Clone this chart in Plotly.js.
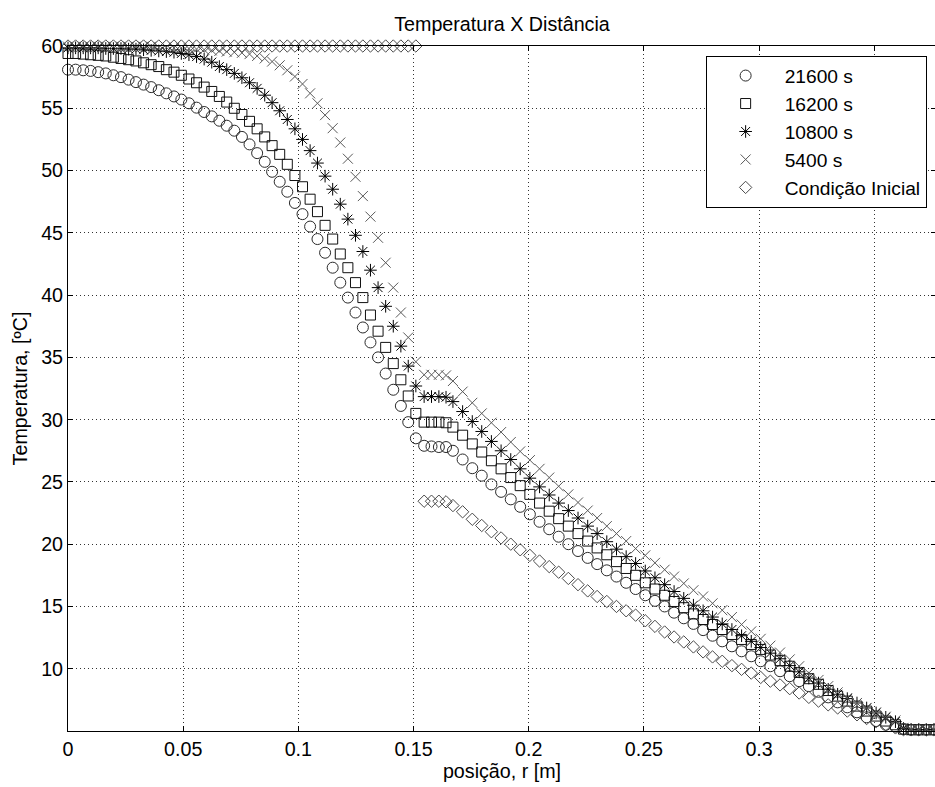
<!DOCTYPE html>
<html>
<head>
<meta charset="utf-8">
<script src="https://cdn.plot.ly/plotly-3.0.1.min.js"></script>
<style>
html,body{margin:0;padding:0;overflow:hidden;background:#fff}
#chart{width:937px;height:787px}
</style>
</head>
<body>
<div id="chart"></div>
<script>
// posição r [m] (shared mesh for all series)
const posicao = [
  0, 0.0033, 0.0066, 0.0098, 0.0131, 0.0164, 0.0197, 0.0230, 0.0263, 0.0295,
  0.0328, 0.0361, 0.0394, 0.0427, 0.0460, 0.0492, 0.0525, 0.0558, 0.0591, 0.0624,
  0.0657, 0.0689, 0.0722, 0.0755, 0.0788, 0.0821, 0.0854, 0.0886, 0.0919, 0.0952,
  0.0985, 0.1018, 0.1051, 0.1083, 0.1116, 0.1149, 0.1182, 0.1215, 0.1248, 0.1280,
  0.1313, 0.1346, 0.1379, 0.1412, 0.1445, 0.1477, 0.1510,
  0.1546, 0.1578, 0.1610, 0.1641,
  0.1671, 0.1713, 0.1755, 0.1796, 0.1838, 0.1880, 0.1922, 0.1963, 0.2005, 0.2047,
  0.2089, 0.2130, 0.2172, 0.2214, 0.2256, 0.2297, 0.2339, 0.2381, 0.2423, 0.2464,
  0.2506, 0.2548, 0.2590, 0.2631, 0.2673, 0.2715, 0.2757, 0.2798, 0.2840, 0.2882,
  0.2924, 0.2966, 0.3007, 0.3049, 0.3091, 0.3133, 0.3174, 0.3216, 0.3258, 0.3300,
  0.3341, 0.3383, 0.3425, 0.3467, 0.3508, 0.3550, 0.3592,
  0.3627, 0.3660, 0.3693, 0.3726, 0.3759
];

const t21600 = [
  58.1, 58.1, 58.05, 58.0, 57.9, 57.8, 57.65, 57.5, 57.3, 57.1,
  56.9, 56.7, 56.45, 56.2, 55.95, 55.7, 55.4, 55.05, 54.7, 54.35,
  54.0, 53.6, 53.2, 52.7, 52.1, 51.4, 50.7, 49.9, 49.1, 48.3,
  47.4, 46.5, 45.5, 44.5, 43.4, 42.2, 41.0, 39.8, 38.6, 37.4,
  36.2, 35.0, 33.7, 32.4, 31.1, 29.8, 28.5,
  27.9, 27.85, 27.8, 27.8,
  27.5, 26.8, 26.1, 25.5, 24.8, 24.2, 23.6, 23.0, 22.4, 21.8,
  21.2, 20.6, 20.0, 19.45, 18.9, 18.4, 17.9, 17.4, 16.9, 16.4,
  15.9, 15.45, 15.0, 14.5, 14.05, 13.6, 13.1, 12.65, 12.2, 11.8,
  11.4, 11.0, 10.6, 10.2, 9.8, 9.4, 9.0, 8.6, 8.15, 7.7,
  7.3, 6.9, 6.5, 6.1, 5.8, 5.5, 5.35,
  5.15, 5.1, 5.1, 5.1, 5.1
];

const t16200 = [
  59.4, 59.4, 59.35, 59.3, 59.25, 59.2, 59.1, 59.0, 58.9, 58.8,
  58.65, 58.5, 58.35, 58.1, 57.9, 57.65, 57.35, 57.05, 56.7, 56.35,
  55.95, 55.5, 55.0, 54.5, 53.95, 53.35, 52.7, 52.0, 51.3, 50.5,
  49.6, 48.7, 47.7, 46.7, 45.6, 44.5, 43.3, 42.2, 41.0, 39.8,
  38.4, 37.1, 35.8, 34.5, 33.2, 31.9, 30.5,
  29.8, 29.8, 29.8, 29.75,
  29.4, 28.75, 28.05, 27.4, 26.7, 26.05, 25.35, 24.7, 24.0, 23.3,
  22.65, 22.05, 21.45, 20.85, 20.25, 19.7, 19.15, 18.6, 18.05, 17.5,
  16.9, 16.4, 15.9, 15.4, 14.9, 14.4, 13.95, 13.55, 13.15, 12.75,
  12.35, 11.95, 11.55, 11.1, 10.65, 10.2, 9.7, 9.2, 8.75, 8.25,
  7.8, 7.4, 7.0, 6.6, 6.2, 5.8, 5.5,
  5.15, 5.1, 5.1, 5.1, 5.1
];

const t10800 = [
  59.85, 59.85, 59.85, 59.85, 59.85, 59.8, 59.8, 59.8, 59.75, 59.75,
  59.7, 59.65, 59.6, 59.55, 59.5, 59.4, 59.3, 59.15, 58.95, 58.7,
  58.35, 58.1, 57.8, 57.45, 57.05, 56.6, 56.05, 55.45, 54.8, 54.1,
  53.35, 52.5, 51.6, 50.6, 49.55, 48.5, 47.3, 46.1, 44.8, 43.5,
  42.0, 40.6, 39.1, 37.5, 35.9, 34.3, 32.7,
  31.85, 31.85, 31.85, 31.8,
  31.45, 30.65, 29.85, 29.05, 28.25, 27.5, 26.8, 26.05, 25.3, 24.6,
  23.95, 23.3, 22.7, 22.1, 21.45, 20.85, 20.2, 19.6, 19.0, 18.45,
  17.85, 17.3, 16.75, 16.2, 15.65, 15.1, 14.65, 14.15, 13.6, 13.15,
  12.65, 12.2, 11.7, 11.25, 10.8, 10.25, 9.75, 9.25, 8.85, 8.35,
  7.95, 7.6, 7.25, 6.85, 6.45, 6.1, 5.75,
  5.2, 5.1, 5.1, 5.1, 5.1
];

const t5400 = [
  59.95, 59.95, 59.95, 59.95, 59.95, 59.95, 59.95, 59.95, 59.95, 59.95,
  59.95, 59.95, 59.9, 59.9, 59.85, 59.85, 59.8, 59.75, 59.7, 59.65,
  59.6, 59.55, 59.5, 59.45, 59.35, 59.2, 59.0, 58.75, 58.45, 58.05,
  57.55, 56.95, 56.2, 55.4, 54.45, 53.4, 52.25, 50.95, 49.5, 47.95,
  46.3, 44.6, 42.6, 40.6, 38.6, 36.6, 34.65,
  33.6, 33.6, 33.6, 33.55,
  33.1, 32.25, 31.35, 30.5, 29.75, 29.0, 28.2, 27.45, 26.75, 26.05,
  25.35, 24.65, 24.0, 23.35, 22.7, 22.1, 21.45, 20.85, 20.25, 19.65,
  19.1, 18.5, 17.95, 17.4, 16.85, 16.3, 15.8, 15.25, 14.7, 14.15,
  13.55, 13.0, 12.4, 11.85, 11.3, 10.75, 10.2, 9.65, 9.1, 8.6,
  8.1, 7.65, 7.25, 6.85, 6.5, 6.15, 5.85,
  5.25, 5.1, 5.1, 5.1, 5.1
];

const inicial = [
  60, 60, 60, 60, 60, 60, 60, 60, 60, 60,
  60, 60, 60, 60, 60, 60, 60, 60, 60, 60,
  60, 60, 60, 60, 60, 60, 60, 60, 60, 60,
  60, 60, 60, 60, 60, 60, 60, 60, 60, 60,
  60, 60, 60, 60, 60, 60, 60,
  23.45, 23.45, 23.45, 23.4,
  23.1, 22.6, 22.0, 21.5, 21.0, 20.5, 20.0, 19.55, 19.1, 18.65,
  18.2, 17.75, 17.25, 16.75, 16.25, 15.8, 15.4, 15.0, 14.65, 14.3,
  13.85, 13.4, 12.95, 12.55, 12.15, 11.75, 11.35, 10.95, 10.6, 10.25,
  9.95, 9.65, 9.3, 9.0, 8.7, 8.4, 8.05, 7.7, 7.4, 7.1,
  6.85, 6.6, 6.3, 6.0, 5.75, 5.5, 5.25,
  5.1, 5.1, 5.1, 5.1, 5.1
];

const seriesNames = ['21600 s', '16200 s', '10800 s', '5400 s', 'Condição Inicial'];
const xTickVals = [0, 0.05, 0.1, 0.15, 0.2, 0.25, 0.3, 0.35];
const xTickText = ['0', '0.05', '0.1', '0.15', '0.2', '0.25', '0.3', '0.35'];
const yTickVals = [10, 15, 20, 25, 30, 35, 40, 45, 50, 55, 60];
const yTickText = ['10', '15', '20', '25', '30', '35', '40', '45', '50', '55', '60'];

const FONT = {family: '"Liberation Sans", Arial, sans-serif', size: 19.7, color: '#000'};
const LEGFONT = {family: '"Liberation Sans", Arial, sans-serif', size: 19.2, color: '#000'};

function tr(name, y, symbol, size, color) {
  return {
    type: 'scatter', mode: 'markers', name: name, x: posicao, y: y,
    cliponaxis: false,
    marker: {symbol: symbol, size: size, color: color, line: {color: color, width: 1}}
  };
}

const data = [
  tr(seriesNames[0], t21600, 'circle-open', 11, '#2a2a2a'),
  tr(seriesNames[1], t16200, 'square-open', 10, '#111'),
  tr(seriesNames[2], t10800, 'asterisk-open', 10.5, '#000'),
  tr(seriesNames[3], t5400, 'x-thin-open', 10, '#5a5a5a'),
  tr(seriesNames[4], inicial, 'diamond-open', 9.5, '#4a4a4a')
];

const axisCommon = {
  showline: true, linecolor: '#000', linewidth: 1, mirror: 'ticks',
  ticks: 'inside', ticklen: 5, tickwidth: 1, tickcolor: '#000',
  showgrid: true, gridcolor: '#333', gridwidth: 1, griddash: '1px,3px',
  zeroline: false, tickfont: FONT
};

const layout = {
  width: 937, height: 787,
  margin: {l: 68, r: 1, t: 46, b: 56},
  paper_bgcolor: '#fff', plot_bgcolor: '#fff',
  font: FONT,
  showlegend: true,
  title: {text: 'Temperatura X Distância', font: FONT, x: 0.5, xref: 'paper',
          y: 1 - 24.5 / 787, yref: 'container', yanchor: 'middle'},
  xaxis: Object.assign({}, axisCommon, {
    range: [0, 0.3768], tickmode: 'array', tickvals: xTickVals, ticktext: xTickText,
    title: {text: 'posição, r [m]', font: FONT, standoff: 5}
  }),
  yaxis: Object.assign({}, axisCommon, {
    range: [5, 60], tickmode: 'array', tickvals: yTickVals, ticktext: yTickText,
    title: {text: 'Temperatura, [ºC]', font: FONT, standoff: 8}
  }),
  legend: {
    x: 0.9892, xanchor: 'right', y: 0.986, yanchor: 'top',
    bgcolor: '#fff', bordercolor: '#000', borderwidth: 1,
    font: LEGFONT, itemwidth: 68, tracegroupgap: 0
  }
};

Plotly.newPlot('chart', data, layout, {staticPlot: true, displayModeBar: false});
</script>
</body>
</html>
